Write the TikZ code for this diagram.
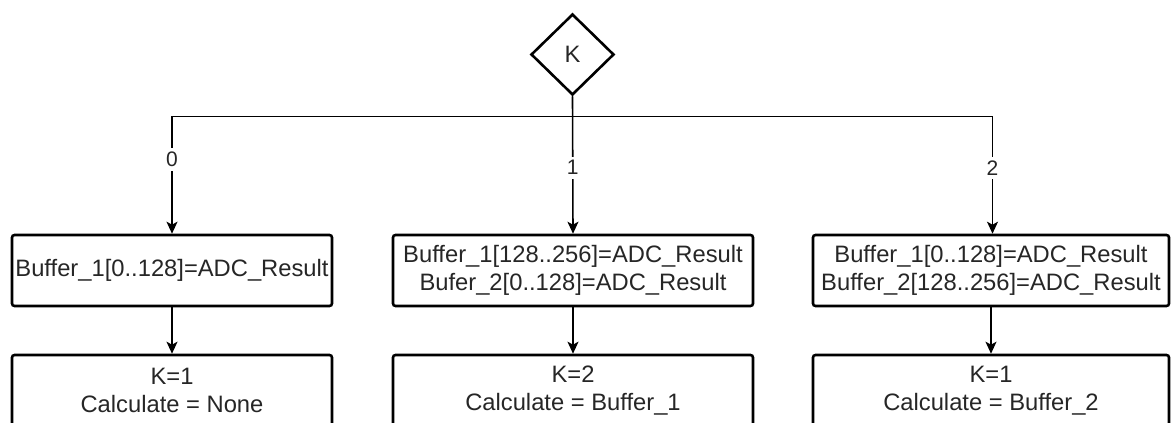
\documentclass[tikz,border=0pt]{standalone}
\usepackage{fontspec}
\setmainfont{Liberation Sans}
\usetikzlibrary{shapes.geometric,arrows.meta}
\begin{document}
\begin{tikzpicture}[x=1pt,y=-1pt,
  box/.style={draw,line width=2.6pt,rounded corners=2.5pt,inner sep=0pt,align=center,
    minimum height=71pt,font=\fontsize{23.75}{28}\selectfont,text=black!85},
  dec/.style={draw,diamond,aspect=1,line width=2.6pt,inner sep=0pt,minimum width=83pt,
    minimum height=81pt,font=\fontsize{23.75}{28}\selectfont,text=black!85},
  conn/.style={line width=1.6pt,-{Stealth[length=12pt,width=11pt,inset=3pt]}},
  lbl/.style={fill=white,inner xsep=1.5pt,inner ysep=4pt,font=\fontsize{21}{24}\selectfont,text=black!85}]
\useasboundingbox (0,0) rectangle (1171,423);
\clip (0,0) rectangle (1171,423);
\node[dec] (K) at (572.5,54.5) {K};
\node[box,minimum width=320pt] (b0) at (172,270.5) {Buffer\_1[0..128]=ADC\_Result};
\node[box,minimum width=360pt] (b1) at (573,270.5) {Buffer\_1[128..256]=ADC\_Result\\Bufer\_2[0..128]=ADC\_Result};
\node[box,minimum width=356pt] (b2) at (991,270.5) {Buffer\_1[0..128]=ADC\_Result\\Buffer\_2[128..256]=ADC\_Result};
\node[box,minimum width=320pt] (c0) at (172,390.5) {K=1\\Calculate = None};
\node[box,minimum width=360pt] (c1) at (573,390.5) {K=2\\Calculate = Buffer\_1};
\node[box,minimum width=356pt] (c2) at (991,390.5) {K=1\\Calculate = Buffer\_2};
\draw[conn] (K.south) -- ++(0,20) -| node[lbl,pos=0.683] {0} (b0.north);
\draw[conn] (K.south) -- node[lbl,pos=0.52] {1} (b1.north);
\draw[conn] (K.south) -- ++(0,20) -| node[lbl,pos=0.72] {2} ([xshift=1.5pt]b2.north);
\draw[conn] (b0) -- (c0);
\draw[conn] (b1) -- (c1);
\draw[conn] (b2) -- (c2);
\end{tikzpicture}
\end{document}
